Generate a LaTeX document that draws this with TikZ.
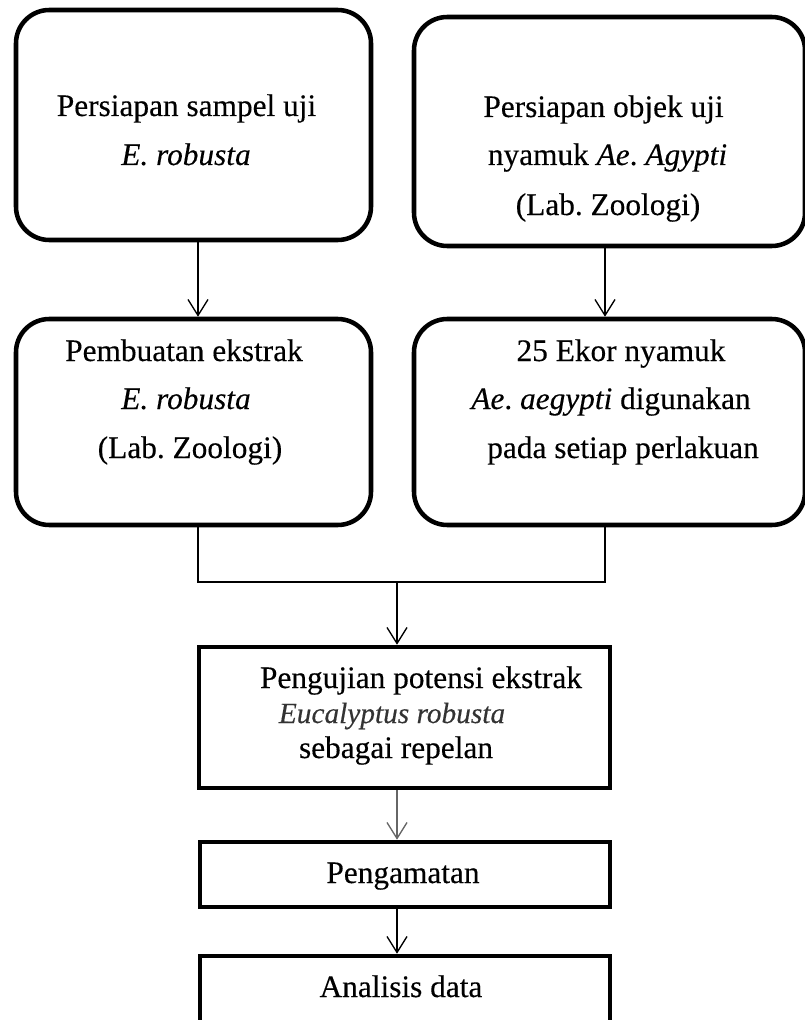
\documentclass[tikz,border=0pt]{standalone}
\usepackage{fontspec}
\setmainfont[FakeBold=0.3]{Liberation Serif}
\usetikzlibrary{arrows.meta}
\begin{document}
\frenchspacing
\begin{tikzpicture}[x=0.75pt,y=-0.75pt,
  rbox/.style={draw,line width=3.4pt,rounded corners=25pt,inner sep=0pt},
  sbox/.style={draw,line width=3.4pt,inner sep=0pt},
  txt/.style={anchor=base,inner sep=0pt,font=\fontsize{23.5}{28}\selectfont\frenchspacing},
  conn/.style={line width=1pt},
  arr/.style={conn,-{Straight Barb[length=12pt,width=15pt,line width=1pt]}}
]
\useasboundingbox (0,0) rectangle (804,1020);

% boxes
\node[rbox,minimum width=355*0.75pt,minimum height=230*0.75pt] (b1) at (193.5,125) {};
\node[rbox,minimum width=391*0.75pt,minimum height=229*0.75pt] (b2) at (609.5,131.5) {};
\node[rbox,minimum width=355*0.75pt,minimum height=206*0.75pt] (b3) at (193.5,422) {};
\node[rbox,minimum width=391*0.75pt,minimum height=206*0.75pt] (b4) at (609.5,422) {};
\node[sbox,minimum width=411*0.75pt,minimum height=141*0.75pt] (b5) at (404.5,717.5) {};
\node[sbox,minimum width=410*0.75pt,minimum height=65*0.75pt] (b6) at (405,874.5) {};
\node[sbox,minimum width=410*0.75pt,minimum height=84*0.75pt] (b7) at (405,998) {};

% texts
\node[txt] (t1a) at (186.5,116) {Persiapan sampel uji};
\node[txt] (t1b) at (186,165) {\textit{E. robusta}};

\node[txt] (t2a) at (603.5,117) {Persiapan objek uji};
\node[txt] (t2b) at (607.5,165) {nyamuk \textit{Ae}. \textit{Agypti}};
\node[txt] (t2c) at (608,215) {(Lab. Zoologi)};

\node[txt] (t3a) at (184,361) {Pembuatan ekstrak};
\node[txt] (t3b) at (186,409) {\textit{E. robusta}};
\node[txt] (t3c) at (190,458) {(Lab. Zoologi)};

\node[txt] (t4a) at (621,361) {25 Ekor nyamuk};
\node[txt] (t4b) at (611,409) {\textit{Ae}. \textit{aegypti} digunakan};
\node[txt] (t4c) at (623,458) {pada setiap perlakuan};

\node[txt] (t5a) at (421,688) {Pengujian potensi ekstrak};
\node[txt,font=\fontsize{22}{26}\selectfont,text=black!80] (t5b) at (392,723) {\textit{Eucalyptus robusta}};
\node[txt] (t5c) at (396,758) {sebagai repelan};

\node[txt] (t6) at (403,883) {Pengamatan};
\node[txt] (t7) at (401,997) {Analisis data};

% connectors
\coordinate (c1) at (198,0);
\coordinate (c2) at (605,0);
\coordinate (m) at (397,582);

\draw[arr] (b1.south -| c1) -- (b3.north -| c1);
\draw[arr] (b2.south -| c2) -- (b4.north -| c2);
\draw[conn] (b3.south -| c1) -- (c1 |- m) -- (c2 |- m) -- (b4.south -| c2);
\draw[arr] (m) -- (b5.north -| m);
\draw[arr,draw=black!60] (b5.south -| m) -- (b6.north -| m);
\draw[arr] (b6.south -| m) -- (b7.north -| m);
\end{tikzpicture}
\end{document}
